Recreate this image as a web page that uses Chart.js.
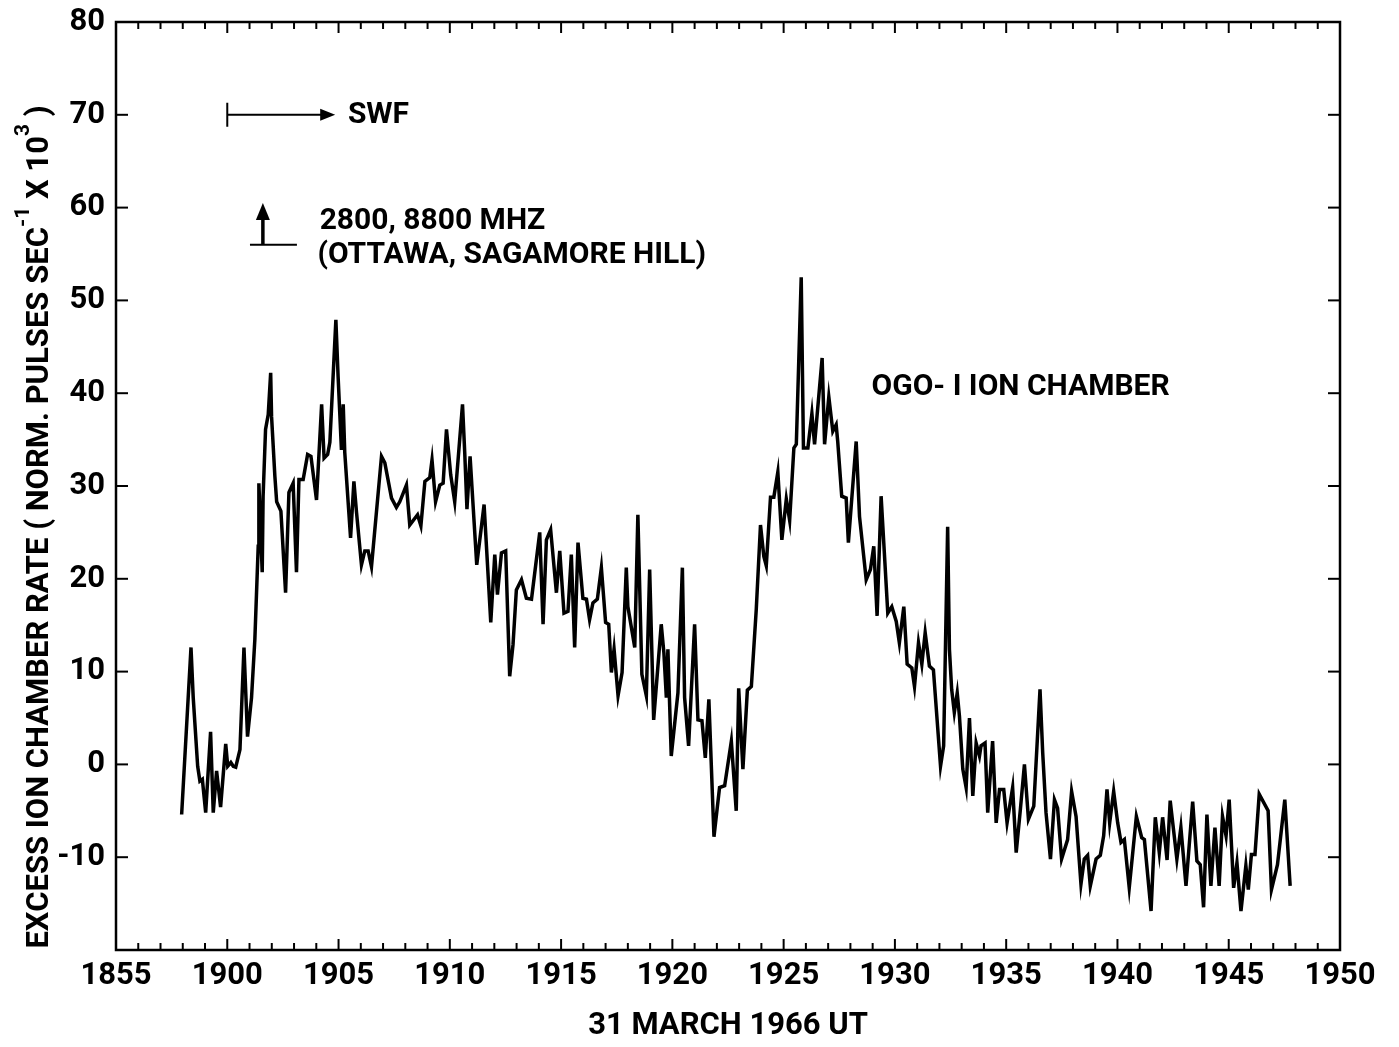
<!DOCTYPE html>
<html>
<head>
<meta charset="utf-8">
<title>OGO-I ion chamber, 31 March 1966</title>
<script src="https://cdn.jsdelivr.net/npm/chart.js@4.4.1/dist/chart.umd.min.js"></script>
<style>
  html, body { margin: 0; padding: 0; background: #fff; }
  #wrap { width: 1399px; height: 1047px; }
</style>
</head>
<body>
<div id="wrap"><canvas id="ionChart" width="1399" height="1047"></canvas></div>
<script>
// time axis: minutes after 18:55 UT
const minutes = [
  2.95, 3.37, 3.47, 3.67, 3.77, 3.88, 4.03, 4.25, 4.37, 4.52, 4.70, 4.93, 5.02, 5.16, 5.27, 5.38,
  5.57, 5.75, 5.91, 6.09, 6.24, 6.39, 6.42, 6.57, 6.61, 6.72, 6.84, 6.95, 6.99, 7.14, 7.22, 7.41,
  7.62, 7.77, 7.96, 8.11, 8.22, 8.41, 8.61, 8.76, 9.01, 9.24, 9.35, 9.51, 9.61, 9.88, 9.98, 10.13,
  10.21, 10.28, 10.54, 10.69, 10.81, 11.03, 11.18, 11.33, 11.48, 11.93, 12.08, 12.38, 12.60, 12.75,
  13.05, 13.20, 13.55, 13.70, 13.88, 14.10, 14.20, 14.36, 14.55, 14.70, 14.85, 15.04, 15.22, 15.57,
  15.67, 15.77, 15.91, 16.21, 16.54, 16.84, 17.02, 17.14, 17.32, 17.51, 17.69, 17.84, 17.99, 18.22,
  18.44, 18.67, 18.85, 19.04, 19.19, 19.34, 19.53, 19.79, 19.94, 20.13, 20.31, 20.46, 20.61, 20.76,
  20.98, 21.14, 21.28, 21.43, 21.63, 21.81, 22.00, 22.14, 22.26, 22.38, 22.56, 22.74, 22.93, 23.00,
  23.31, 23.45, 23.63, 23.83, 23.98, 24.16, 24.50, 24.62, 24.73, 24.80, 24.95, 25.25, 25.45, 25.55,
  25.73, 26.00, 26.15, 26.33, 26.48, 26.64, 26.87, 27.12, 27.35, 27.65, 27.87, 27.98, 28.17, 28.37,
  28.55, 28.77, 28.96, 29.11, 29.22, 29.41, 29.56, 29.74, 29.92, 30.12, 30.27, 30.46, 30.57, 30.79,
  30.89, 31.09, 31.27, 31.39, 31.73, 31.84, 32.03, 32.21, 32.36, 32.43, 32.61, 32.81, 32.91, 33.26,
  33.41, 33.71, 33.90, 34.05, 34.20, 34.38, 34.68, 34.86, 35.06, 35.20, 35.40, 35.55, 35.76, 35.88,
  36.06, 36.21, 36.36, 36.55, 36.73, 37.05, 37.19, 37.37, 37.45, 37.55, 37.67, 37.80, 37.90, 38.05,
  38.20, 38.35, 38.50, 38.65, 38.80, 38.87, 39.05, 39.17, 39.39, 39.55, 39.70, 39.89, 40.04, 40.29,
  40.45, 40.64, 40.82, 41.00, 41.24, 41.52, 41.64, 41.79, 41.99, 42.17, 42.31, 42.49, 42.76, 42.94,
  43.14, 43.36, 43.51, 43.66, 43.78, 44.04, 44.23, 44.38, 44.53, 44.65, 44.83, 45.01, 45.16, 45.31,
  45.53, 45.85, 46.09, 46.21, 46.51, 46.70, 46.88, 47.03, 47.23, 47.37, 47.67, 47.85, 48.08, 48.38,
  48.57, 48.72, 48.87, 49.02, 49.20, 49.38, 49.57, 49.72, 49.88, 50.02, 50.22, 50.37, 50.55, 50.77,
  50.88, 51.02, 51.18, 51.37, 51.77, 51.92, 52.19, 52.52, 52.76
];

// excess ion chamber rate (norm. pulses/sec x 10^3)
const rate = [
  -5.4, 12.6, 7.2, -0.2, -1.8, -1.6, -5.2, 3.5, -5.2, -0.7, -4.6, 2.2, -0.2, 0.2, -0.2, -0.3,
  1.6, 12.6, 3.0, 7.2, 13.5, 23.5, 30.3, 20.7, 28.9, 36.1, 37.7, 42.2, 37.5, 31.0, 28.3, 27.3,
  18.5, 29.3, 30.3, 20.7, 30.7, 30.7, 33.4, 33.2, 28.5, 38.8, 33.0, 33.4, 34.7, 47.9, 41.8, 33.9,
  38.8, 33.6, 24.4, 30.5, 27.1, 21.5, 23.0, 23.0, 21.3, 33.2, 32.5, 28.7, 27.7, 28.3,
  30.1, 25.8, 26.9, 25.7, 30.5, 30.9, 32.8, 28.3, 30.1, 30.3, 36.1, 31.2, 28.3, 38.8,
  33.6, 27.5, 33.2, 21.5, 28.0, 15.3, 22.6, 18.3, 22.8, 23.0, 9.5, 12.9, 18.8, 19.9,
  17.9, 17.8, 21.3, 25.0, 15.1, 24.2, 25.3, 18.5, 23.0, 16.3, 16.5, 22.6, 12.6, 23.9,
  17.9, 17.8, 15.6, 17.4, 17.8, 21.2, 15.3, 15.1, 9.9, 12.4, 7.4, 9.9, 21.2, 17.0,
  12.6, 26.9, 9.7, 7.4, 21.0, 4.8, 15.1, 12.0, 7.2, 12.4, 0.9, 7.7, 21.2, 7.2,
  2.0, 15.1, 4.8, 4.7, 0.7, 7.0, -7.8, -2.5, -2.3, 2.5, -5.0, 8.2, -0.5, 8.0,
  8.4, 16.7, 25.8, 22.4, 21.4, 28.8, 28.8, 31.5, 24.2, 28.6, 26.3, 34.1, 34.5, 52.5,
  34.1, 34.1, 37.8, 34.5, 43.8, 34.5, 39.6, 35.9, 36.6, 34.8, 28.9, 28.7, 23.9, 34.8,
  26.7, 19.9, 21.0, 23.5, 16.0, 28.9, 16.3, 17.0, 15.4, 13.1, 17.0, 10.8, 10.4, 8.4,
  13.1, 10.8, 14.2, 10.6, 10.2, -0.2, 2.0, 25.6, 12.4, 8.1, 5.6, 7.7, 5.2, -0.5,
  -2.5, 5.0, -3.4, 2.3, 0.9, 2.0, 2.3, -5.2, 2.5, -6.3, -2.7, -2.7, -6.3, -2.5,
  -9.5, -4.8, 0.0, -5.9, -4.5, 8.1, 1.3, -5.2, -10.2, -3.8, -4.7, -10.2, -8.1, -2.9,
  -5.6, -12.9, -10.2, -9.8, -13.1, -10.2, -9.8, -7.7, -2.7, -6.3, -2.9, -6.3, -8.4, -8.1,
  -13.3, -5.6, -7.9, -8.1, -15.8, -5.7, -9.5, -5.7, -10.3, -3.9, -10.2, -6.8, -13.1, -4.0,
  -10.4, -10.8, -15.4, -5.4, -13.1, -6.8, -13.1, -5.6, -7.7, -3.8, -13.3, -10.6, -15.8, -10.9,
  -13.5, -9.7, -9.7, -3.2, -5.0, -13.5, -10.8, -3.8, -13.1
];

const xTickLabels = ['1855', '1900', '1905', '1910', '1915', '1920', '1925', '1930', '1935', '1940', '1945', '1950'];

const FONT = "'Roboto', 'DejaVu Sans', sans-serif";
const INK = '#000';

// tick marks on all four sides of the frame, pointing inwards
const frameTicks = {
  id: 'frameTicks',
  afterDraw(chart) {
    const { ctx, chartArea: { left, right, top, bottom }, scales: { x, y } } = chart;
    const seg = (x1, y1, x2, y2) => { ctx.beginPath(); ctx.moveTo(x1, y1); ctx.lineTo(x2, y2); ctx.stroke(); };
    ctx.save();
    ctx.strokeStyle = INK;
    ctx.lineWidth = 2.5;
    ctx.strokeRect(left, top, right - left, bottom - top);
    ctx.lineWidth = 2;
    for (let m = x.min; m <= x.max; m++) {
      const px = x.getPixelForValue(m);
      const len = m % 5 === 0 ? 11 : 7;
      seg(px, bottom, px, bottom - len);
      seg(px, top, px, top + len);
    }
    for (let v = y.min; v <= y.max; v += 10) {
      const py = y.getPixelForValue(v);
      seg(left, py, left + 12, py);
      seg(right, py, right - 12, py);
    }
    ctx.restore();
  }
};

// event markers, labels and the rotated y-axis title
const notes = {
  id: 'notes',
  afterDraw(chart) {
    const { ctx, scales: { x, y } } = chart;
    ctx.save();
    ctx.fillStyle = INK;
    ctx.strokeStyle = INK;
    ctx.font = `bold 30px ${FONT}`;
    ctx.textBaseline = 'middle';

    // SWF onset: bar at 19:00 with arrow to the right
    const sx0 = x.getPixelForValue(5), sx1 = x.getPixelForValue(9.85), sy = y.getPixelForValue(70);
    ctx.lineWidth = 2;
    ctx.beginPath();
    ctx.moveTo(sx0, sy - 12); ctx.lineTo(sx0, sy + 12);
    ctx.moveTo(sx0, sy); ctx.lineTo(sx1 - 12, sy);
    ctx.stroke();
    ctx.beginPath();
    ctx.moveTo(sx1, sy); ctx.lineTo(sx1 - 15, sy - 6); ctx.lineTo(sx1 - 15, sy + 6);
    ctx.closePath(); ctx.fill();
    ctx.fillText('SWF', x.getPixelForValue(10.42), sy + 1);

    // radio burst onset arrow
    const ax = x.getPixelForValue(6.6), ab = y.getPixelForValue(56), at = y.getPixelForValue(60.5);
    ctx.lineWidth = 3.5;
    ctx.beginPath();
    ctx.moveTo(ax, ab); ctx.lineTo(ax, at + 12);
    ctx.stroke();
    ctx.beginPath();
    ctx.moveTo(ax, at); ctx.lineTo(ax - 7, at + 17); ctx.lineTo(ax + 7, at + 17);
    ctx.closePath(); ctx.fill();
    ctx.lineWidth = 2;
    ctx.beginPath();
    ctx.moveTo(x.getPixelForValue(6.02), ab); ctx.lineTo(x.getPixelForValue(8.13), ab);
    ctx.stroke();
    ctx.fillText('2800, 8800 MHZ', x.getPixelForValue(9.15), y.getPixelForValue(58.5));
    ctx.fillText('(OTTAWA, SAGAMORE HILL)', x.getPixelForValue(9.05), y.getPixelForValue(54.8));

    ctx.fillText('OGO- I ION CHAMBER', x.getPixelForValue(33.95), y.getPixelForValue(40.6));

    // y-axis title with superscripts
    const parts = [
      ['EXCESS ION CHAMBER RATE ( NORM. PULSES SEC', false],
      ['-1', true],
      [' X 10', false],
      ['3', true],
      [' )', false]
    ];
    const base = 31, sup = 21;
    const widths = parts.map(([t, s]) => {
      ctx.font = `bold ${s ? sup : base}px ${FONT}`;
      return ctx.measureText(t).width;
    });
    const total = widths.reduce((a, b) => a + b, 0);
    ctx.translate(40, 527);
    ctx.rotate(-Math.PI / 2);
    let cx = -total / 2;
    ctx.textAlign = 'left';
    parts.forEach(([t, s], i) => {
      ctx.font = `bold ${s ? sup : base}px ${FONT}`;
      ctx.fillText(t, cx, s ? -16 : 0);
      cx += widths[i];
    });
    ctx.restore();
  }
};

const ctx = document.getElementById('ionChart').getContext('2d');
new Chart(ctx, {
  type: 'line',
  data: {
    datasets: [{
      data: minutes.map((m, i) => ({ x: m, y: rate[i] })),
      borderColor: INK,
      borderWidth: 3.5,
      pointRadius: 0,
      tension: 0,
      fill: false
    }]
  },
  options: {
    responsive: false,
    animation: false,
    layout: { padding: { left: 0, top: 22, right: 59, bottom: 0 } },
    plugins: { legend: { display: false }, tooltip: { enabled: false } },
    scales: {
      x: {
        type: 'linear',
        min: 0,
        max: 55,
        afterFit(scale) { scale.height = 97; },
        grid: { display: false, drawTicks: false },
        border: { display: false },
        ticks: {
          stepSize: 5,
          autoSkip: false,
          maxRotation: 0,
          padding: 8,
          color: INK,
          font: { family: FONT, size: 31, weight: 'bold' },
          callback: (v) => xTickLabels[Math.round(v / 5)] ?? ''
        },
        title: {
          display: true,
          text: '31 MARCH 1966 UT',
          color: INK,
          font: { family: FONT, size: 31, weight: 'bold' },
          padding: { top: 0, bottom: 2 }
        }
      },
      y: {
        min: -20,
        max: 80,
        afterFit(scale) {
          scale.width = 116;
          // keep the plot top at the layout padding, not pushed down by the "80" label
          scale.paddingTop = 0;
          scale.paddingBottom = 0;
        },
        grid: { display: false, drawTicks: false },
        border: { display: false },
        ticks: {
          stepSize: 10,
          padding: 11,
          color: INK,
          font: { family: FONT, size: 31, weight: 'bold' },
          callback: (v) => (v === -20 ? '' : String(v))
        }
      }
    }
  },
  plugins: [frameTicks, notes]
});
</script>
</body>
</html>
